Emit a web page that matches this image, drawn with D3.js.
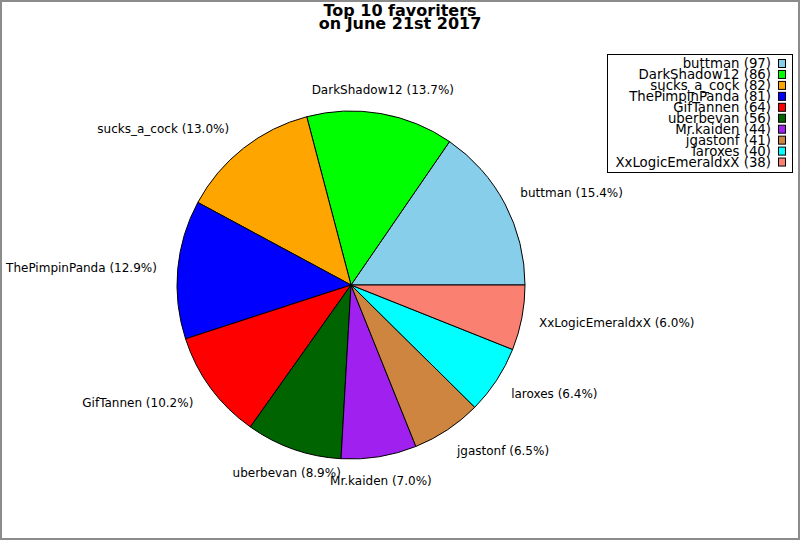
<!DOCTYPE html>
<html>
<head>
<meta charset="utf-8">
<script src="https://cdn.jsdelivr.net/npm/d3@7"></script>
<style>
  html, body { margin: 0; padding: 0; background: #fff; }
  svg { display: block; }
  text { font-family: "DejaVu Sans", sans-serif; }
</style>
</head>
<body>
<svg id="chart" width="800" height="540"></svg>
<script>
const names = ["buttman", "DarkShadow12", "sucks_a_cock", "ThePimpinPanda", "GifTannen",
               "uberbevan", "Mr.kaiden", "jgastonf", "laroxes", "XxLogicEmeraldxX"];
const counts = [97, 86, 82, 81, 64, 56, 44, 41, 40, 38];
const colors = ["#87CEEB", "#00FF00", "#FFA500", "#0000FF", "#FF0000",
                "#006400", "#A020F0", "#CD853F", "#00FFFF", "#FA8072"];
const titleLines = ["Top 10 favoriters", "on June 21st 2017"];

const svg = d3.select("#chart");
const W = 800, H = 540;
const cx = 351, cy = 285, R = 174;

svg.append("rect").attr("x", 0).attr("y", 0).attr("width", W).attr("height", H).attr("fill", "#fff");
svg.append("rect").attr("x", 1).attr("y", 1).attr("width", W - 2).attr("height", H - 2)
  .attr("fill", "none").attr("stroke", "#8c8c8c").attr("stroke-width", 2);

// title
svg.append("g").selectAll("text").data(titleLines).join("text")
  .attr("x", 400).attr("y", (d, i) => 16 + i * 13.3)
  .attr("text-anchor", "middle").attr("font-size", 16).attr("font-weight", "bold")
  .attr("fill", "#000").text(d => d);

const data = names.map((n, i) => ({ name: n, value: counts[i], color: colors[i] }));
const total = d3.sum(counts);

const pie = d3.pie().value(d => d.value).sort(null)
  .startAngle(Math.PI / 2).endAngle(Math.PI / 2 - 2 * Math.PI);
const arcs = pie(data);
const arc = d3.arc().innerRadius(0).outerRadius(R);

const g = svg.append("g").attr("transform", `translate(${cx},${cy})`);
g.selectAll("path").data(arcs).join("path")
  .attr("d", arc).attr("fill", d => d.data.color)
  .attr("stroke", "#000").attr("stroke-width", 1).attr("stroke-linejoin", "round");

// labels
const lr = R * 1.1;
g.selectAll("text.lbl").data(arcs).join("text")
  .attr("class", "lbl")
  .each(function (d) {
    const mid = (d.startAngle + d.endAngle) / 2;
    const th = Math.PI / 2 - mid;
    const c = Math.cos(th), s = Math.sin(th);
    let x = lr * c;
    const y = -lr * s - 7 * s;
    let anchor;
    if (Math.abs(c) < 0.4) { anchor = "middle"; x -= 1; }
    else if (c > 0) { anchor = "start"; }
    else { anchor = "end"; x -= 3.5; }
    d3.select(this).attr("x", x).attr("y", y + 4.3).attr("text-anchor", anchor);
  })
  .attr("font-size", 12).attr("fill", "#000")
  .text(d => `${d.data.name} (${(d.data.value / total * 100).toFixed(1)}%)`);

// legend
const lg = svg.append("g");
lg.append("rect").attr("x", 607.5).attr("y", 54.5).attr("width", 185).attr("height", 118)
  .attr("fill", "#fff").attr("stroke", "#000").attr("stroke-width", 1);
const ly = d3.scaleLinear().domain([0, data.length - 1]).range([68, 68 + 9 * 10.95]);
const rows = lg.selectAll("g.row").data(data).join("g").attr("class", "row");
rows.append("text").attr("x", 771).attr("y", (d, i) => ly(i))
  .attr("text-anchor", "end").attr("font-size", 13.3).attr("fill", "#000")
  .text(d => `${d.name} (${d.value})`);
rows.append("rect").attr("x", 778.5).attr("y", (d, i) => ly(i) - 8.5)
  .attr("width", 7).attr("height", 8).attr("fill", d => d.color)
  .attr("stroke", "#000").attr("stroke-width", 1);
</script>
</body>
</html>
